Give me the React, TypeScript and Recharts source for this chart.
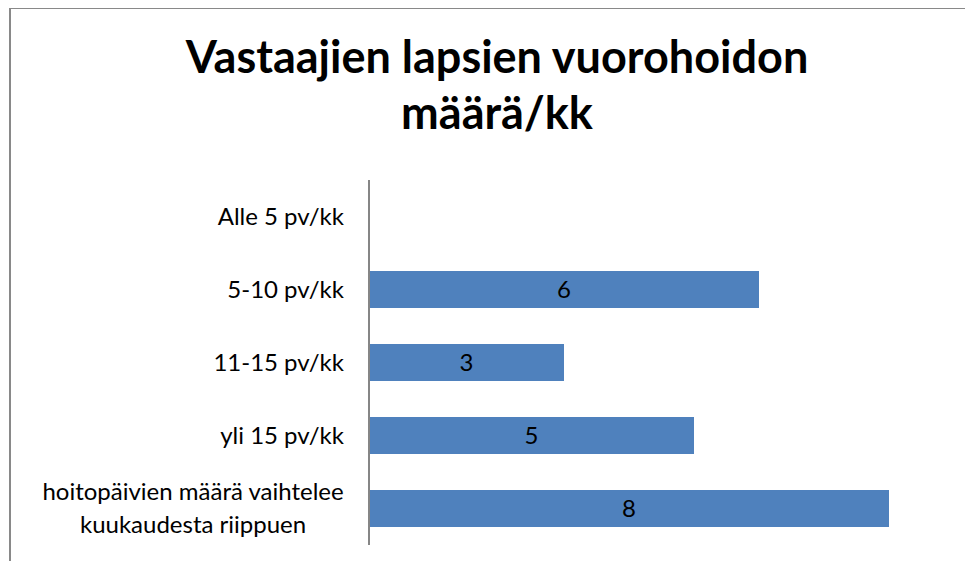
import React from "react";
import { BarChart, Bar, XAxis, YAxis, LabelList } from "recharts";

const titleLines = ["Vastaajien lapsien vuorohoidon", "määrä/kk"];
const categories = [
  "Alle 5 pv/kk",
  "5-10 pv/kk",
  "11-15 pv/kk",
  "yli 15 pv/kk",
  "hoitopäivien määrä vaihtelee kuukaudesta riippuen",
];
const counts = [0, 6, 3, 5, 8];

const data = categories.map((c, i) => ({ name: c, value: counts[i] }));

const FONT = "Lato, 'Open Sans', sans-serif";
const TICK_SIZE = 24;

function wrap(label: string, maxChars: number): string[] {
  const words = label.split(" ");
  const lines: string[] = [];
  let cur = "";
  for (const w of words) {
    const next = cur ? cur + " " + w : w;
    if (next.length > maxChars && cur) {
      lines.push(cur);
      cur = w;
    } else cur = next;
  }
  if (cur) lines.push(cur);
  return lines;
}

let ctx: CanvasRenderingContext2D | null = null;
function measure(t: string): number {
  if (!ctx) {
    const c = document.createElement("canvas");
    ctx = c.getContext("2d");
  }
  if (!ctx) return t.length * TICK_SIZE * 0.5;
  ctx.font = `${TICK_SIZE}px Lato`;
  return ctx.measureText(t).width;
}

const CatTick = (props: any) => {
  const { x, y, payload } = props;
  const lines = wrap(String(payload.value), 28);
  const right = x - 17;
  if (lines.length === 1) {
    return (
      <text x={right} y={y + 8} textAnchor="end" fontFamily={FONT} fontSize={TICK_SIZE} fill="#000">
        {lines[0]}
      </text>
    );
  }
  const w = Math.max(...lines.map(measure));
  const cx = right - w / 2;
  const lh = 33;
  const start = y + 8 - ((lines.length - 1) * lh) / 2;
  return (
    <text textAnchor="middle" fontFamily={FONT} fontSize={TICK_SIZE} fill="#000">
      {lines.map((l, i) => (
        <tspan key={i} x={cx} y={start + i * lh}>
          {l}
        </tspan>
      ))}
    </text>
  );
};

export default function App() {
  return (
    <div style={{ margin: -8, width: 973, height: 569, overflow: "hidden", position: "relative", background: "#fff" }}>
      <div
        style={{
          position: "absolute",
          left: 9,
          top: 7,
          width: 1000,
          height: 600,
          border: "2px solid #898989",
          boxSizing: "border-box",
        }}
      />
      <svg width={973} height={569} style={{ position: "absolute", left: 0, top: 0 }}>
        <text x={497} y={73} textAnchor="middle" fontFamily={FONT} fontWeight="bold" fontSize={45} fill="#000">
          {titleLines[0]}
        </text>
        <text x={497} y={129} textAnchor="middle" fontFamily={FONT} fontWeight="bold" fontSize={45} fill="#000">
          {titleLines[1]}
        </text>
      </svg>
      <div style={{ position: "absolute", left: 0, top: 0 }}>
        <BarChart
          layout="vertical"
          width={973}
          height={569}
          data={data}
          margin={{ top: 180, bottom: 24, left: 0, right: 19 }}
          barCategoryGap={0}
        >
          <XAxis type="number" domain={[0, 9]} hide />
          <YAxis
            type="category"
            dataKey="name"
            width={369}
            axisLine={{ stroke: "#868686", strokeWidth: 2 }}
            tickLine={false}
            tick={<CatTick />}
            interval={0}
          />
          <Bar dataKey="value" fill="#4F81BD" barSize={37} isAnimationActive={false}>
            <LabelList
              dataKey="value"
              position="center"
              fill="#000"
              fontFamily={FONT}
              fontSize={TICK_SIZE}
              formatter={(v: any) => (v ? String(v) : "")}
            />
          </Bar>
        </BarChart>
      </div>
    </div>
  );
}
